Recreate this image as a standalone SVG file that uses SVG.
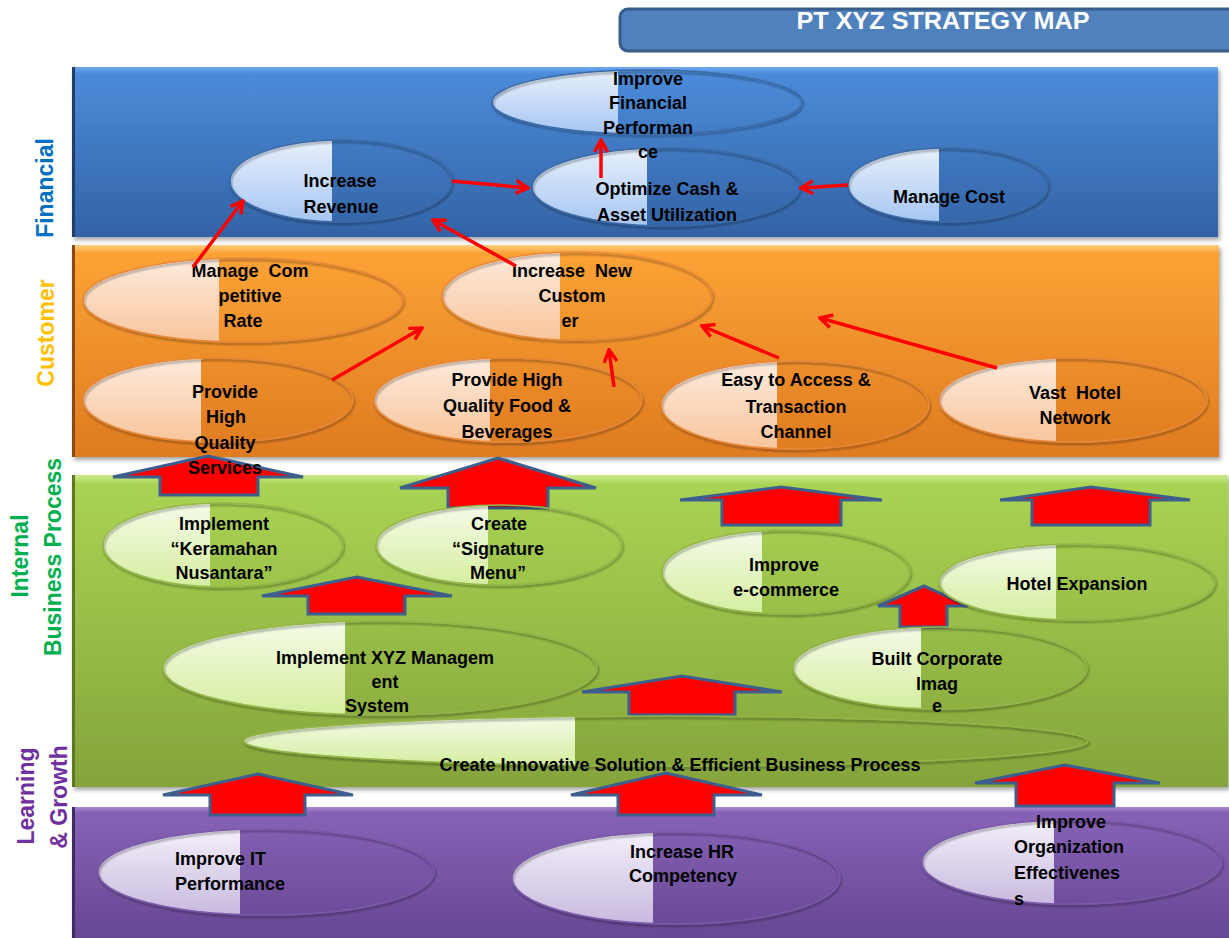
<svg xmlns="http://www.w3.org/2000/svg" width="1229" height="938" viewBox="0 0 1229 938">
<style>
.t{font-family:"Liberation Sans",Arial,sans-serif;font-weight:bold;font-size:18px;fill:#000;text-anchor:middle}
.ts{text-anchor:start}
.lab{font-family:"Liberation Sans",Arial,sans-serif;font-weight:bold;font-size:23px;text-anchor:middle}
.of{fill:none;stroke:#3a6aa5;stroke-width:1.5;filter:url(#es)}
.oc{fill:none;stroke:#e6883a;stroke-width:1.5;filter:url(#es)}
.oi{fill:none;stroke:#93b54a;stroke-width:1.5;filter:url(#es)}
.ol{fill:none;stroke:#7a5aa8;stroke-width:1.5;filter:url(#es)}
.blk{fill:#ff0000;stroke:#3d5f8e;stroke-width:3;stroke-linejoin:miter}
.ln{fill:none;stroke:#ff0000;stroke-width:3.5;marker-end:url(#ah)}
</style>
<defs>
<linearGradient id="bF" x1="0" y1="0" x2="0" y2="1"><stop offset="0" stop-color="#6eaaf0"/><stop offset="0.04" stop-color="#4b8bd9"/><stop offset="1" stop-color="#3363a5"/></linearGradient>
<linearGradient id="bC" x1="0" y1="0" x2="0" y2="1"><stop offset="0" stop-color="#ffd080"/><stop offset="0.04" stop-color="#fca235"/><stop offset="1" stop-color="#df7b20"/></linearGradient>
<linearGradient id="bI" x1="0" y1="0" x2="0" y2="1"><stop offset="0" stop-color="#cdea8e"/><stop offset="0.03" stop-color="#a9d353"/><stop offset="1" stop-color="#85a43b"/></linearGradient>
<linearGradient id="bL" x1="0" y1="0" x2="0" y2="1"><stop offset="0" stop-color="#aa8bd3"/><stop offset="0.04" stop-color="#8762b6"/><stop offset="1" stop-color="#664692"/></linearGradient>
<linearGradient id="eF" x1="0" y1="0" x2="0" y2="1"><stop offset="0" stop-color="#e8f0fc"/><stop offset="1" stop-color="#a6c6f3"/></linearGradient>
<linearGradient id="eC" x1="0" y1="0" x2="0" y2="1"><stop offset="0" stop-color="#fdebdd"/><stop offset="1" stop-color="#f9c59c"/></linearGradient>
<linearGradient id="eI" x1="0" y1="0" x2="0" y2="1"><stop offset="0" stop-color="#f4fbe8"/><stop offset="1" stop-color="#d5eea0"/></linearGradient>
<linearGradient id="eL" x1="0" y1="0" x2="0" y2="1"><stop offset="0" stop-color="#f3effa"/><stop offset="1" stop-color="#c8badf"/></linearGradient>
<filter id="bs" x="-5%" y="-10%" width="110%" height="125%"><feDropShadow dx="2" dy="3" stdDeviation="2" flood-color="#000" flood-opacity="0.35"/></filter>
<filter id="es" x="-10%" y="-20%" width="120%" height="150%"><feDropShadow dx="1" dy="2" stdDeviation="1.2" flood-color="#000" flood-opacity="0.45"/></filter>
<marker id="ah" viewBox="0 0 16 16" refX="14" refY="8" markerWidth="16" markerHeight="16" markerUnits="userSpaceOnUse" orient="auto"><path d="M2,1.5 L14,8 L2,14.5" fill="none" stroke="#ff0000" stroke-width="3.5"/></marker>
<clipPath id="c1" clipPathUnits="userSpaceOnUse"><rect x="0" y="0" width="618" height="938"/></clipPath>
<clipPath id="c2" clipPathUnits="userSpaceOnUse"><rect x="0" y="0" width="332" height="938"/></clipPath>
<clipPath id="c3" clipPathUnits="userSpaceOnUse"><rect x="0" y="0" width="647" height="938"/></clipPath>
<clipPath id="c4" clipPathUnits="userSpaceOnUse"><rect x="0" y="0" width="939" height="938"/></clipPath>
<clipPath id="c5" clipPathUnits="userSpaceOnUse"><rect x="0" y="0" width="219" height="938"/></clipPath>
<clipPath id="c6" clipPathUnits="userSpaceOnUse"><rect x="0" y="0" width="560" height="938"/></clipPath>
<clipPath id="c7" clipPathUnits="userSpaceOnUse"><rect x="0" y="0" width="201" height="938"/></clipPath>
<clipPath id="c8" clipPathUnits="userSpaceOnUse"><rect x="0" y="0" width="490" height="938"/></clipPath>
<clipPath id="c9" clipPathUnits="userSpaceOnUse"><rect x="0" y="0" width="777" height="938"/></clipPath>
<clipPath id="c10" clipPathUnits="userSpaceOnUse"><rect x="0" y="0" width="1056" height="938"/></clipPath>
<clipPath id="c11" clipPathUnits="userSpaceOnUse"><rect x="0" y="0" width="210" height="938"/></clipPath>
<clipPath id="c12" clipPathUnits="userSpaceOnUse"><rect x="0" y="0" width="488" height="938"/></clipPath>
<clipPath id="c13" clipPathUnits="userSpaceOnUse"><rect x="0" y="0" width="762" height="938"/></clipPath>
<clipPath id="c14" clipPathUnits="userSpaceOnUse"><rect x="0" y="0" width="1056" height="938"/></clipPath>
<clipPath id="c15" clipPathUnits="userSpaceOnUse"><rect x="0" y="0" width="345" height="938"/></clipPath>
<clipPath id="c16" clipPathUnits="userSpaceOnUse"><rect x="0" y="0" width="921" height="938"/></clipPath>
<clipPath id="c17" clipPathUnits="userSpaceOnUse"><rect x="0" y="0" width="575" height="938"/></clipPath>
<clipPath id="c18" clipPathUnits="userSpaceOnUse"><rect x="0" y="0" width="240" height="938"/></clipPath>
<clipPath id="c19" clipPathUnits="userSpaceOnUse"><rect x="0" y="0" width="653" height="938"/></clipPath>
<clipPath id="c20" clipPathUnits="userSpaceOnUse"><rect x="0" y="0" width="1054" height="938"/></clipPath>
</defs>

<rect x="0" y="0" width="1229" height="938" fill="#ffffff"/>

<g id="title">
<rect x="620" y="9" width="640" height="42" rx="8" fill="#4f81bd" stroke="#385d8a" stroke-width="3"/>
<text x="943" y="29" font-family="Liberation Sans, Arial, sans-serif" font-weight="bold" font-size="24" fill="#ffffff" text-anchor="middle" textLength="293" lengthAdjust="spacingAndGlyphs">PT XYZ STRATEGY MAP</text>
</g>

<g id="bands">
<g id="band-financial"><rect x="72" y="67" width="1146" height="170" fill="url(#bF)" filter="url(#bs)"/><rect x="72" y="67" width="3" height="170" fill="#1f3f66"/></g>
<g id="band-customer"><rect x="72" y="245" width="1147" height="212" fill="url(#bC)" filter="url(#bs)"/><rect x="72" y="245" width="3" height="212" fill="#8a4a12"/></g>
<g id="band-internal"><rect x="72" y="475" width="1156" height="312" fill="url(#bI)" filter="url(#bs)"/><rect x="72" y="475" width="3" height="312" fill="#5d7a22"/></g>
<g id="band-learning"><rect x="72" y="807" width="1160" height="135" fill="url(#bL)" filter="url(#bs)"/><rect x="72" y="807" width="3" height="135" fill="#3f2a66"/></g>
</g>

<g id="perspective-labels">
<text class="lab" fill="#0070c0" transform="translate(53,188) rotate(-90)">Financial</text>
<text class="lab" fill="#ffc000" transform="translate(54,333) rotate(-90)">Customer</text>
<text class="lab" fill="#00b050" transform="translate(28,556) rotate(-90)">Internal</text>
<text class="lab" fill="#00b050" transform="translate(61,557) rotate(-90)">Business Process</text>
<text class="lab" fill="#7030a0" transform="translate(34,796) rotate(-90)">Learning</text>
<text class="lab" fill="#7030a0" transform="translate(67,797) rotate(-90)">&amp; Growth</text>
</g>

<g id="connectors-block">
<polygon class="blk" points="113,477 208,456 303,477 258,477 258,495 160,495 160,477"/>
<polygon class="blk" points="400,488 498,458 596,488 548,488 548,508 448,508 448,488"/>
<polygon class="blk" points="680,500 781,487 882,500 841,500 841,525 722,525 722,500"/>
<polygon class="blk" points="1000,500 1091,487 1190,500 1150,500 1150,525 1032,525 1032,500"/>
<polygon class="blk" points="262,596 357,577 452,596 405,596 405,614 308,614 308,596"/>
<polygon class="blk" points="878,606 924,586 968,606 947,606 947,627 900,627 900,606"/>
<polygon class="blk" points="582,692 682,676 782,692 735,692 735,715 629,715 629,692"/>
<polygon class="blk" points="163,795 258,774 353,795 305,795 305,815 210,815 210,795"/>
<polygon class="blk" points="571,795 666,773 762,795 714,795 714,815 618,815 618,795"/>
<polygon class="blk" points="975,783 1065,765 1160,783 1114,783 1114,806 1016,806 1016,783"/>
</g>

<g id="n3"><ellipse cx="666" cy="187" rx="134" ry="39" fill="url(#eF)" clip-path="url(#c3)"/><ellipse class="of" cx="666" cy="187" rx="134" ry="39"/>
<text class="t" x="667" y="195">Optimize Cash &amp;</text><text class="t" x="667" y="221">Asset Utilization</text></g>
<g id="n1"><ellipse cx="647" cy="102" rx="155" ry="32" fill="url(#eF)" clip-path="url(#c1)"/><ellipse class="of" cx="647" cy="102" rx="155" ry="32"/>
<text class="t" x="648" y="85">Improve</text><text class="t" x="648" y="109">Financial</text><text class="t" x="648" y="134">Performan</text><text class="t" x="648" y="158">ce</text></g>
<g id="n2"><ellipse cx="341" cy="181" rx="111" ry="41" fill="url(#eF)" clip-path="url(#c2)"/><ellipse class="of" cx="341" cy="181" rx="111" ry="41"/>
<text class="t" x="340" y="187">Increase</text><text class="t" x="341" y="213">Revenue</text></g>
<g id="n4"><ellipse cx="948" cy="185" rx="100" ry="37" fill="url(#eF)" clip-path="url(#c4)"/><ellipse class="of" cx="948" cy="185" rx="100" ry="37"/>
<text class="t" x="949" y="203">Manage Cost</text></g>

<g id="n5"><ellipse cx="243" cy="300" rx="160" ry="42" fill="url(#eC)" clip-path="url(#c5)"/><ellipse class="oc" cx="243" cy="300" rx="160" ry="42"/>
<text class="t" x="250" y="277" xml:space="preserve">Manage  Com</text><text class="t" x="250" y="302">petitive</text><text class="t" x="243" y="327">Rate</text></g>
<g id="n6"><ellipse cx="577" cy="296" rx="135" ry="44" fill="url(#eC)" clip-path="url(#c6)"/><ellipse class="oc" cx="577" cy="296" rx="135" ry="44"/>
<text class="t" x="572" y="277" xml:space="preserve">Increase  New</text><text class="t" x="572" y="302">Custom</text><text class="t" x="570" y="327">er</text></g>
<g id="n7"><ellipse cx="218" cy="400" rx="135" ry="42" fill="url(#eC)" clip-path="url(#c7)"/><ellipse class="oc" cx="218" cy="400" rx="135" ry="42"/>
<text class="t" x="225" y="398">Provide</text><text class="t" x="226" y="423">High</text><text class="t" x="225" y="449">Quality</text><text class="t" x="225" y="474">Services</text></g>
<g id="n8"><ellipse cx="508" cy="400" rx="134" ry="42" fill="url(#eC)" clip-path="url(#c8)"/><ellipse class="oc" cx="508" cy="400" rx="134" ry="42"/>
<text class="t" x="507" y="386">Provide High</text><text class="t" x="507" y="412">Quality Food &amp;</text><text class="t" x="507" y="438">Beverages</text></g>
<g id="n9"><ellipse cx="795" cy="405" rx="134" ry="44" fill="url(#eC)" clip-path="url(#c9)"/><ellipse class="oc" cx="795" cy="405" rx="134" ry="44"/>
<text class="t" x="796" y="386">Easy to Access &amp;</text><text class="t" x="796" y="413">Transaction</text><text class="t" x="796" y="438">Channel</text></g>
<g id="n10"><ellipse cx="1073" cy="400" rx="134" ry="42" fill="url(#eC)" clip-path="url(#c10)"/><ellipse class="oc" cx="1073" cy="400" rx="134" ry="42"/>
<text class="t" x="1075" y="399" xml:space="preserve">Vast  Hotel</text><text class="t" x="1075" y="424">Network</text></g>

<g id="n11"><ellipse cx="223" cy="545" rx="120" ry="42" fill="url(#eI)" clip-path="url(#c11)"/><ellipse class="oi" cx="223" cy="545" rx="120" ry="42"/>
<text class="t" x="224" y="530">Implement</text><text class="t" x="224" y="555">“Keramahan</text><text class="t" x="224" y="579">Nusantara”</text></g>
<g id="n12"><ellipse cx="499" cy="545" rx="123" ry="40" fill="url(#eI)" clip-path="url(#c12)"/><ellipse class="oi" cx="499" cy="545" rx="123" ry="40"/>
<text class="t" x="499" y="530">Create</text><text class="t" x="498" y="555">“Signature</text><text class="t" x="498" y="579">Menu”</text></g>
<g id="n13"><ellipse cx="786" cy="572" rx="124" ry="42" fill="url(#eI)" clip-path="url(#c13)"/><ellipse class="oi" cx="786" cy="572" rx="124" ry="42"/>
<text class="t" x="784" y="571">Improve</text><text class="t" x="786" y="596">e-commerce</text></g>
<g id="n14"><ellipse cx="1077" cy="582" rx="138" ry="38" fill="url(#eI)" clip-path="url(#c14)"/><ellipse class="oi" cx="1077" cy="582" rx="138" ry="38"/>
<text class="t" x="1077" y="590">Hotel Expansion</text></g>
<g id="n15"><ellipse cx="380" cy="668" rx="217" ry="47" fill="url(#eI)" clip-path="url(#c15)"/><ellipse class="oi" cx="380" cy="668" rx="217" ry="47"/>
<text class="t" x="385" y="664">Implement XYZ Managem</text><text class="t" x="385" y="688">ent</text><text class="t" x="377" y="712">System</text></g>
<g id="n16"><ellipse cx="940" cy="668" rx="147" ry="41" fill="url(#eI)" clip-path="url(#c16)"/><ellipse class="oi" cx="940" cy="668" rx="147" ry="41"/>
<text class="t" x="937" y="665">Built Corporate</text><text class="t" x="937" y="690">Imag</text><text class="t" x="937" y="712">e</text></g>
<g id="n17"><ellipse cx="666" cy="741" rx="422" ry="25" fill="url(#eI)" clip-path="url(#c17)"/><ellipse class="oi" cx="666" cy="741" rx="422" ry="25"/>
<text class="t" x="680" y="771">Create Innovative Solution &amp; Efficient Business Process</text></g>

<g id="n18"><ellipse cx="266" cy="872" rx="168" ry="43" fill="url(#eL)" clip-path="url(#c18)"/><ellipse class="ol" cx="266" cy="872" rx="168" ry="43"/>
<text class="t ts" x="175" y="865">Improve IT</text><text class="t ts" x="175" y="890">Performance</text></g>
<g id="n19"><ellipse cx="676" cy="878" rx="164" ry="46" fill="url(#eL)" clip-path="url(#c19)"/><ellipse class="ol" cx="676" cy="878" rx="164" ry="46"/>
<text class="t" x="682" y="858">Increase HR</text><text class="t" x="683" y="882">Competency</text></g>
<g id="n20"><ellipse cx="1072" cy="862" rx="150" ry="42" fill="url(#eL)" clip-path="url(#c20)"/><ellipse class="ol" cx="1072" cy="862" rx="150" ry="42"/>
<text class="t ts" x="1036" y="828">Improve</text><text class="t ts" x="1014" y="853">Organization</text><text class="t ts" x="1014" y="879">Effectivenes</text><text class="t ts" x="1014" y="905">s</text></g>

<g id="connectors-lines">
<line class="ln" x1="601" y1="178" x2="601" y2="140"/>
<line class="ln" x1="452" y1="181" x2="528" y2="188"/>
<line class="ln" x1="848" y1="185" x2="801" y2="188"/>
<line class="ln" x1="193" y1="267" x2="243" y2="201"/>
<line class="ln" x1="516" y1="266" x2="433" y2="220"/>
<line class="ln" x1="332" y1="380" x2="422" y2="328"/>
<line class="ln" x1="614" y1="387" x2="609" y2="350"/>
<line class="ln" x1="779" y1="358" x2="702" y2="326"/>
<line class="ln" x1="997" y1="368" x2="820" y2="318"/>
</g>
</svg>
